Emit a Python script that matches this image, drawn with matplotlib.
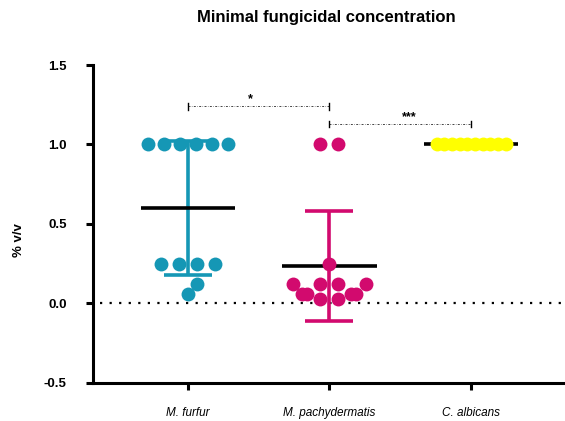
import numpy as np
import matplotlib
matplotlib.use("Agg")
import matplotlib.pyplot as plt

plt.rcParams['font.family'] = ['Liberation Sans', 'DejaVu Sans']

# datos (% v/v)
grupos = ['M. furfur', 'M. pachydermatis', 'C. albicans']
furfur = [1, 1, 1, 1, 1, 1, 0.25, 0.25, 0.25, 0.25, 0.125, 0.0625]
pachy = [1, 1, 0.25, 0.125, 0.125, 0.125, 0.125,
         0.0625, 0.0625, 0.0625, 0.0625, 0.03125, 0.03125]
albicans = [1, 1, 1, 1, 1, 1, 1, 1, 1, 1]
colores = ['#1597b5', '#d20a6e', '#ffff00']
yticks = [-0.5, 0.0, 0.5, 1.0, 1.5]
ylabels = ['-0.5', '0.0', '0.5', '1.0', '1.5']
# comparaciones (grupo a, grupo b, altura, texto)
comp_a = [0, 1]
comp_b = [1, 2]
comp_y = [1.24, 1.13]
comp_txt = ['*', '***']

W, H = 5.65, 4.21
fig = plt.figure(figsize=(W, H), dpi=100)
ax = fig.add_axes([0.1646, 0.0903, 0.8354, 0.7553])
x0, x1 = -0.671, 2.664
y0, y1 = -0.5, 1.5
ax.set_xlim(x0, x1)
ax.set_ylim(y0, y1)

# pixeles por unidad
xpx = 0.8354 * W * 100 / (x1 - x0)
ypx = 0.7553 * H * 100 / (y1 - y0)


def enjambre(vals, sep=18.0, ancho=80.0, d=13.5):
    # beeswarm sencillo en pixeles, filas de valores iguales centradas
    vals = np.array(vals, dtype=float)
    offs = np.zeros(len(vals))
    puestos = []
    for v in sorted(set(vals)):
        idx = np.where(vals == v)[0]
        n = len(idx)
        s = sep if n < 2 else min(sep, ancho / (n - 1))
        pref = (np.arange(n) - (n - 1) / 2) * s
        y = v * ypx
        nuevos = []
        for k, p in zip(idx, pref):
            x = p
            paso = 0.5 if p >= 0 else -0.5
            while any((x - px) ** 2 + (y - py) ** 2 < d ** 2 for py, px in puestos):
                x += paso
            offs[k] = x
            nuevos.append((y, x))
        puestos += nuevos
    return offs / xpx


datos = [furfur, pachy, albicans]
anchos = [80, 80, 69]
for i, vals in enumerate(datos):
    m = np.mean(vals)
    sd = np.std(vals, ddof=1)
    if sd > 0:
        ax.errorbar(i, m, yerr=sd, color=colores[i], lw=2.6, capsize=17.3,
                    capthick=2.6, zorder=2)
    ax.hlines(m, i - 0.335, i + 0.335, color='black', lw=2.6, zorder=3)
    ax.plot(i + enjambre(vals, ancho=anchos[i]), vals, 'o', color=colores[i], ms=10,
            mec='none', zorder=4, clip_on=False)

# linea del cero
ax.plot([x0 + 0.05, x1 - 0.03], [0, 0], color='black', lw=1.6,
        linestyle=(0, (1, 3.3)), zorder=1)

# barras de significancia
txt_x = [0.44, 0.56]
for a, b, h, t, dx in zip(comp_a, comp_b, comp_y, comp_txt, txt_x):
    ax.plot([a, b], [h, h], color='#444444', lw=0.7, linestyle='-.', dashes=(2, 1.5, 0.5, 1.5))
    ax.plot([a, a], [h - 0.02, h + 0.02], color='black', lw=1)
    ax.plot([b, b], [h - 0.02, h + 0.02], color='black', lw=1)
    ax.text(a + dx, h + 0.005, t, ha='center', va='bottom', fontsize=9,
            fontweight='bold')

ax.spines['top'].set_visible(False)
ax.spines['right'].set_visible(False)
ax.spines['left'].set_linewidth(2.2)
ax.spines['bottom'].set_linewidth(2.2)
ax.set_yticks(yticks)
ax.set_yticklabels(ylabels, fontsize=9.5, fontweight='bold')
ax.set_xticks([0, 1, 2])
ax.set_xticklabels(grupos, fontsize=8.5, style='italic')
ax.tick_params(axis='both', width=2.2, length=5)
ax.tick_params(axis='y', pad=14)
ax.tick_params(axis='x', pad=12)
ax.set_ylabel('% v/v', fontsize=9.5, fontweight='bold')
ax.yaxis.set_label_coords(-0.145, 0.45)

fig.text(0.577, 0.958, 'Minimal fungicidal concentration', ha='center', va='center',
         fontsize=12, fontweight='bold')

fig.savefig('out.png', dpi=100)
